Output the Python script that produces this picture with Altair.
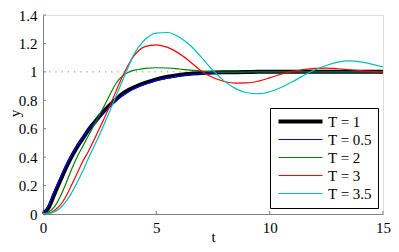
import altair as alt
import pandas as pd

# time grid (read positions)
t = [0, 0.25, 0.5, 0.75, 1, 1.25, 1.5, 1.75, 2, 2.25, 2.5, 2.75, 3, 3.25, 3.5, 3.75, 4,
     4.5, 5, 5.5, 6, 6.5, 7, 7.5, 8, 8.5, 9, 9.5, 10, 10.5, 11, 11.5, 12, 12.5, 13, 13.5, 14, 14.5, 15]

y_T1 = [0, 0.045, 0.14, 0.23, 0.32, 0.40, 0.47, 0.53, 0.59, 0.64, 0.69, 0.735, 0.775, 0.81, 0.845, 0.87, 0.89,
        0.922, 0.947, 0.965, 0.978, 0.987, 0.992, 0.995, 0.997, 0.998, 0.999, 1.0, 1.0, 1.0, 1.0, 1.0, 1.0, 1.0, 1.0, 1.0, 1.0, 1.0, 1.0]
y_T05 = [0, 0.06, 0.16, 0.25, 0.335, 0.41, 0.475, 0.535, 0.59, 0.64, 0.685, 0.727, 0.765, 0.80, 0.83, 0.857, 0.88,
         0.913, 0.938, 0.956, 0.97, 0.98, 0.987, 0.991, 0.994, 0.996, 0.998, 0.999, 0.999, 1.0, 1.0, 1.0, 1.0, 1.0, 1.0, 1.0, 1.0, 1.0, 1.0]
y_T2 = [0, 0.015, 0.05, 0.12, 0.21, 0.31, 0.40, 0.475, 0.55, 0.625, 0.70, 0.775, 0.855, 0.925, 0.97, 0.995, 1.01,
        1.024, 1.029, 1.027, 1.02, 1.012, 1.005, 1.0, 0.998, 0.998, 0.999, 1.0, 1.0, 1.0, 1.0, 1.0, 1.0, 1.0, 1.0, 1.0, 1.0, 1.0, 1.0]
y_T3 = [0, 0.005, 0.025, 0.06, 0.12, 0.20, 0.285, 0.37, 0.44, 0.52, 0.605, 0.69, 0.78, 0.875, 0.965, 1.045, 1.11,
        1.178, 1.19, 1.172, 1.13, 1.07, 1.005, 0.96, 0.932, 0.921, 0.922, 0.935, 0.958, 0.983, 1.003, 1.016, 1.024, 1.026, 1.022, 1.015, 1.008, 1.002, 0.999]
y_T35 = [0, 0.003, 0.015, 0.04, 0.085, 0.145, 0.22, 0.30, 0.39, 0.475, 0.56, 0.65, 0.745, 0.84, 0.935, 1.03, 1.12,
         1.228, 1.273, 1.277, 1.245, 1.185, 1.10, 1.01, 0.935, 0.882, 0.853, 0.846, 0.86, 0.89, 0.93, 0.975, 1.015, 1.045, 1.068, 1.077, 1.07, 1.055, 1.035]

labels = ["T = 1", "T = 0.5", "T = 2", "T = 3", "T = 3.5"]
colors = ["#000000", "#0000ff", "#008000", "#ff0000", "#00bfbf"]
widths = [4, 1.2, 1.2, 1.2, 1.2]

x_ticks = [0, 5, 10, 15]
y_ticks = [0, 0.2, 0.4, 0.6, 0.8, 1, 1.2, 1.4]
ref_t = [0, 15]
ref_y = [1, 1]

series = [y_T1, y_T05, y_T2, y_T3, y_T35]
rows = []
for lab, ys in zip(labels, series):
    for ti, yi in zip(t, ys):
        rows.append({"t": ti, "y": yi, "series": lab})
df = pd.DataFrame(rows)
ref = pd.DataFrame({"t": ref_t, "y": ref_y})
xt = pd.DataFrame({"v": x_ticks})
yt = pd.DataFrame({"v": y_ticks})

FONT = "Liberation Serif"
TOP = 7
W, H = 340, 199
AXC = "#808080"

xscale = alt.Scale(domain=[0, 15], nice=False)
yscale = alt.Scale(domain=[0, 1.4], nice=False)

xaxis = alt.Axis(values=x_ticks, title="t", grid=False, ticks=False, domainColor=AXC,
                 labelFont=FONT, labelFontSize=15, labelColor="black", labelPadding=6,
                 labelOverlap=False, labelFlush=False, labelBound=False,
                 titleFont=FONT, titleFontSize=15, titleFontWeight="normal", titleColor="black",
                 titleBaseline="bottom", titleY=30)
yaxis = alt.Axis(values=y_ticks, title="y", grid=False, ticks=False, domainColor=AXC, format="~g",
                 labelFont=FONT, labelFontSize=15, labelColor="black", labelPadding=6,
                 labelOverlap=False, labelFlush=False, labelBound=False,
                 titleFont=FONT, titleFontSize=15, titleFontWeight="normal", titleColor="black",
                 titleX=-29, titleY=98, titleAngle=270, titleBaseline="middle", titleAlign="center")

leg = alt.Legend(title=None, orient="none", legendX=227, legendY=108 - 8 - TOP,
                 symbolType="M-4.4,0H4.4", symbolSize=100, symbolOffset=17,
                 labelOffset=20, labelFont=FONT, labelFontSize=15, labelColor="black",
                 strokeColor="black", fillColor="white", padding=6, rowPadding=2,
                 cornerRadius=0)

X = alt.X("t:Q", scale=xscale, axis=xaxis, title="t")
Y = alt.Y("y:Q", scale=yscale, axis=yaxis, title="y")

refline = alt.Chart(ref).mark_line(color="#888888", strokeWidth=1, strokeDash=[1.2, 5]).encode(x=X, y=Y)

lines = alt.Chart(df).mark_line(interpolate="monotone").encode(
    x=X, y=Y,
    color=alt.Color("series:N", scale=alt.Scale(domain=labels, range=colors), sort=labels, legend=leg),
    strokeWidth=alt.StrokeWidth("series:N", scale=alt.Scale(type="ordinal", domain=labels, range=widths),
                                sort=labels, legend=leg),
)

xtick_rules = alt.Chart(xt).mark_rule(color=AXC, strokeWidth=1).encode(
    x=alt.X("v:Q", scale=xscale, axis=xaxis, title="t"), y=alt.value(H), y2=alt.value(H - 3))
ytick_rules = alt.Chart(yt).mark_rule(color=AXC, strokeWidth=1).encode(
    y=alt.Y("v:Q", scale=yscale, axis=yaxis, title="y"), x=alt.value(0), x2=alt.value(3))

chart = alt.layer(refline, lines, xtick_rules, ytick_rules).properties(
    width=W, height=H,
    autosize=alt.AutoSizeParams(type="none"),
    padding={"left": 35, "top": TOP, "right": 8, "bottom": 30},
    background="white",
).configure_view(stroke=None).configure(font=FONT).configure_axis(
    labelFont=FONT, titleFont=FONT).configure_legend(labelFont=FONT)

chart.save("out.html", embed_options={"renderer": "svg", "actions": False})
